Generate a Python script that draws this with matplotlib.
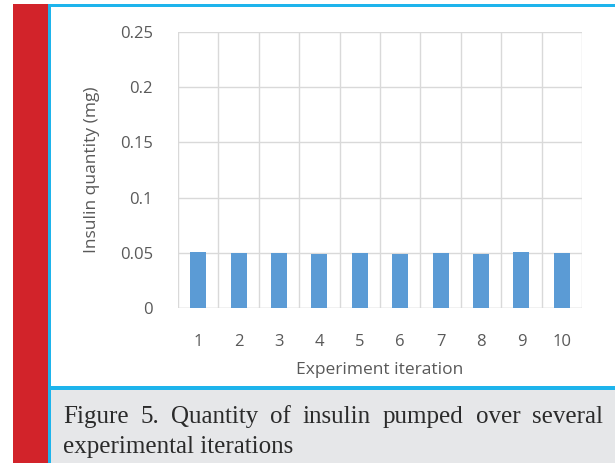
import matplotlib
matplotlib.use("Agg")
import matplotlib.pyplot as plt
from matplotlib.patches import Rectangle

# data
iterations = ["1", "2", "3", "4", "5", "6", "7", "8", "9", "10"]
insulin_mg = [0.051, 0.050, 0.050, 0.049, 0.050, 0.049, 0.050, 0.049, 0.051, 0.050]
y_ticks = [0, 0.05, 0.1, 0.15, 0.2, 0.25]
y_labels = ["0", "0.05", "0.1", "0.15", "0.2", "0.25"]
caption_1 = "Figure 5. Quantity of insulin pumped over several"
caption_2 = "experimental iterations"

W, H = 615, 463
fig = plt.figure(figsize=(W / 100, H / 100), dpi=100)
fig.patch.set_facecolor("white")


def px_rect(x0, y0, x1, y1, color):
    # pixel box (top-left origin) -> figure fraction rectangle
    fig.patches.append(Rectangle((x0 / W, 1 - y1 / H), (x1 - x0) / W, (y1 - y0) / H,
                                 transform=fig.transFigure, facecolor=color,
                                 edgecolor="none", zorder=0))


px_rect(13, 4, 48, H, "#d2232a")       # red side band
px_rect(51, 390, W, H, "#e6e7e9")      # caption box
px_rect(48, 4, 51, H, "#1eb4ec")       # cyan frame
px_rect(48, 4, W, 7, "#1eb4ec")
px_rect(48, 386, W, 390, "#1eb4ec")

ax = fig.add_axes([178 / W, 1 - 308 / H, 404 / W, 276 / H])
x = list(range(len(iterations)))
ax.bar(x, insulin_mg, width=0.4, color="#5b9bd5", zorder=3)

ax.set_xlim(-0.5, len(iterations) - 0.5)
ax.set_ylim(0, 0.25)
ax.set_yticks(y_ticks)
ax.set_yticklabels(y_labels)
ax.set_xticks(x)
ax.set_xticklabels(iterations)
ax.set_xticks([i - 0.5 for i in range(len(iterations) + 1)], minor=True)
ax.grid(axis="y", which="major", color="#d9d9d9", lw=1, zorder=0)
ax.grid(axis="x", which="minor", color="#d9d9d9", lw=1, zorder=0)
ax.tick_params(which="both", length=0)
ax.tick_params(axis="y", pad=18, labelsize=12, labelcolor="#595959")
ax.tick_params(axis="x", pad=19, labelsize=12, labelcolor="#595959")
for s in ax.spines.values():
    s.set_visible(False)
ax.axhline(0, color="#d9d9d9", lw=1, zorder=2)

font = ["Open Sans", "DejaVu Sans"]
for lab in ax.get_xticklabels() + ax.get_yticklabels():
    lab.set_family(font)
ax.set_xlabel("Experiment iteration", fontsize=12.5, color="#595959", family=font, labelpad=8)
ax.set_ylabel("Insulin quantity (mg)", fontsize=12.5, color="#595959", family=font, labelpad=14)

# caption, first line justified between x=63 and x=603
serif = ["Liberation Serif", "DejaVu Serif"]
cap_size = 18
words = caption_1.split()
fig.canvas.draw()
r = fig.canvas.get_renderer()
items = []
for w in words:
    t = fig.text(0, 1 - 417 / H, w, fontsize=cap_size, family=serif, color="#2b2b2b", va="center")
    items.append((t, t.get_window_extent(renderer=r).width))
left, right = 63, 603
gap = (right - left - sum(wd for _, wd in items)) / (len(items) - 1)
pos = left
for t, wd in items:
    t.set_x(pos / W)
    pos += wd + gap
fig.text(left / W, 1 - 447 / H, caption_2, fontsize=cap_size, family=serif, color="#2b2b2b", va="center")

fig.savefig("out.png", dpi=100)
